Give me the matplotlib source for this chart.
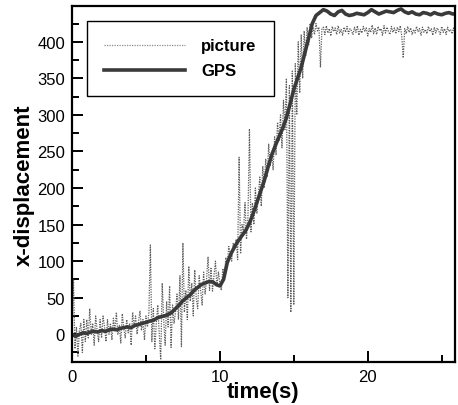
import matplotlib
matplotlib.use("Agg")
import matplotlib.pyplot as plt
import numpy as np
from matplotlib.ticker import MultipleLocator

plt.rcParams['font.family'] = ['Liberation Sans', 'DejaVu Sans']

# GPS track, sampled every 0.25 s
gps_t = np.linspace(0, 26, 105)
gps_x = [0, -3, 0, 2, 1, 3, 4, 3, 5, 4, 6, 7, 6, 8, 9, 10, 9, 12, 13, 15,
         16, 18, 19, 22, 24, 25, 27, 30, 35, 40, 46, 50, 54, 60, 64, 68, 70, 72, 72, 68,
         66, 75, 98, 110, 120, 128, 135, 142, 152, 165, 180, 195, 210, 228, 245, 258, 270, 282, 296, 315,
         335, 350, 365, 385, 405, 425, 436, 440, 444, 442, 438, 436, 441, 443, 438, 436, 437, 439, 438, 437,
         440, 444, 441, 438, 440, 442, 441, 440, 443, 445, 441, 439, 441, 438, 437, 440, 439, 437, 440, 438,
         437, 439, 440, 438, 439]

# picture-based estimate, sampled every 0.1 s
pic_t = np.linspace(0, 26, 261)
pic_x = [
    0, 75, -20, 10, -30, 5, 15, -25, 20, -10,
    20, -5, 35, 0, 15, -15, 25, 5, -10, 20,
    -5, 25, 10, -10, 20, 0, 15, -8, 22, 5,
    30, 0, 12, -12, 28, 8, -5, 20, 2, 15,
    -15, 30, 10, 25, 0, 18, 32, 5, 20, -8,
    25, 10, 30, 122, -10, 35, -20, 15, 40, 0,
    -35, 70, 20, -15, 45, 10, 66, -18, 40, 15,
    30, 55, 20, 80, -17, 125, 30, 60, 20, 93,
    45, 70, 25, 88, 50, 35, 80, 60, 40, 85,
    55, 75, 106, 60, 90, 59, 80, 100, 65, 85,
    70, 60, 90, 75, 105, 95, 120, 110, 100, 125,
    115, 130, 102, 242, 110, 150, 140, 180, 130, 160,
    281, 140, 180, 150, 200, 165, 190, 215, 175, 230,
    200, 240, 215, 260, 230, 250, 225, 270, 245, 290,
    265, 300, 255, 320, 280, 350, 50, 340, 30, 360,
    40, 370, 300, 400, 330, 410, 350, 415, 380, 420,
    395, 425, 405, 420, 410, 425, 415, 420, 365, 418,
    420, 410, 422, 412, 418, 408, 421, 414, 419, 410,
    422, 412, 417, 409, 420, 413, 421, 411, 418, 415,
    410, 420, 413, 422, 409, 417, 412, 421, 414, 419,
    408, 418, 413, 423, 411, 419, 410, 421, 415, 418,
    409, 422, 412, 420, 414, 410, 421, 413, 419, 411,
    420, 414, 422, 408, 378, 418, 411, 421, 413, 419,
    410, 417, 412, 421, 414, 418, 409, 420, 413, 417,
    411, 421, 414, 418, 409, 420, 412, 419, 415, 410,
    421, 413, 418, 410, 420, 414, 417, 411, 419, 413,
    418]

fig = plt.figure(figsize=(4.58, 4.06), dpi=100)
ax = fig.add_axes([72 / 458, 1 - 363 / 406, 383 / 458, 356 / 406])

ax.plot(pic_t, pic_x, color="#5e5e5e", ls=(0, (1, 1)), lw=0.9, label="picture")
ax.plot(gps_t, gps_x, color="#3a3a3a", lw=2.6, label="GPS")

ax.set_xlim(0, 25.9)
ax.set_ylim(-38, 449)
ax.xaxis.set_major_locator(MultipleLocator(10))
ax.xaxis.set_minor_locator(MultipleLocator(5))
ax.yaxis.set_major_locator(MultipleLocator(50))
ax.yaxis.set_minor_locator(MultipleLocator(25))
ax.tick_params(which="both", direction="in", top=False, right=False,
               width=1.4, labelsize=12, pad=5)
ax.tick_params(which="major", length=8)
ax.tick_params(which="minor", length=5)
for s in ax.spines.values():
    s.set_linewidth(1.6)

ax.set_xlabel("time(s)", fontsize=16, fontweight="bold", labelpad=-2)
ax.set_ylabel("x-displacement", fontsize=16, fontweight="bold", labelpad=2)

leg = ax.legend(loc="upper left", bbox_to_anchor=(0.039, 0.958), fancybox=False,
                framealpha=1, edgecolor="black", handlelength=4.85, handletextpad=0.95,
                borderpad=1.05, borderaxespad=0, prop={"weight": "bold", "size": 12},
                labelspacing=0.6)
leg.get_frame().set_linewidth(1.0)
leg.get_lines()[0].set_color("#8a8a8a")

fig.savefig("out.png", dpi=100)
